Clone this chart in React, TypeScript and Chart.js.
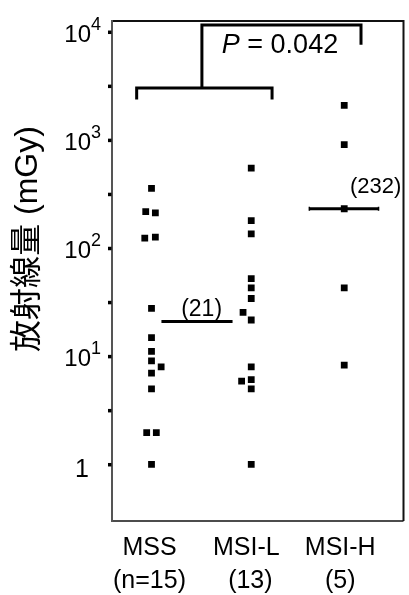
import React, { useEffect, useRef } from 'react';
import { Chart, registerables } from 'chart.js';

Chart.register(...registerables);

// ---- data ----
const categories = ['MSS', 'MSI-L', 'MSI-H'];
const groupSizes = ['(n=15)', '(13)', '(5)'];

const mssValues = [358, 218, 212, 124, 127, 27.8, 14.9, 11.1, 9.1, 8.0, 7.0, 5.0, 1.97, 1.97, 1.0];
const mssOffsets = [0, -0.06, 0.04, -0.07, 0.04, 0, 0, 0, 0, 0.1, 0, 0, -0.05, 0.05, 0];

const msilValues = [550, 180, 136, 52.4, 43, 34.3, 25.5, 21.7, 8.0, 5.9, 6.1, 5.0, 1.0];
const msilOffsets = [0.035, 0.035, 0.035, 0.035, 0.035, 0.035, -0.05, 0.035, 0.035, -0.065, 0.035, 0.035, 0.035];

const msihValues = [2100, 908, 232, 43, 8.3];
const msihOffsets = [0, 0, 0, 0, 0];

const medianValues = [21, 232];
const medianLabels = ['(21)', '(232)'];

const majorTickExponents = [0, 1, 2, 3, 4];
const minorTickValues = [3.162, 31.62, 316.2, 3162];

const pValue = '0.042';
const yTitle = '放射線量 (mGy)';

// ---- helpers ----
const FONT = "'Liberation Sans', Arial, sans-serif";

const groups = [
  { values: mssValues, offsets: mssOffsets, index: 0 },
  { values: msilValues, offsets: msilOffsets, index: 1 },
  { values: msihValues, offsets: msihOffsets, index: 2 },
];

const overlayPlugin = {
  id: 'overlay',
  afterDraw(chart: any) {
    const ctx: CanvasRenderingContext2D = chart.ctx;
    const area = chart.chartArea;
    const xs = chart.scales.x;
    const ys = chart.scales.y;
    ctx.save();

    // frame
    ctx.lineCap = 'butt';
    ctx.strokeStyle = '#111';
    ctx.lineWidth = 2;
    ctx.beginPath();
    ctx.moveTo(area.left, area.top);
    ctx.lineTo(area.right, area.top);
    ctx.lineTo(area.right, area.bottom);
    ctx.stroke();
    ctx.lineWidth = 1.5;
    ctx.beginPath();
    ctx.moveTo(area.left, area.bottom);
    ctx.lineTo(area.right, area.bottom);
    ctx.stroke();
    ctx.strokeStyle = '#555';
    ctx.lineWidth = 2;
    ctx.beginPath();
    ctx.moveTo(area.left, area.top - 1);
    ctx.lineTo(area.left, area.bottom + 1);
    ctx.stroke();

    // tick marks (decades and half decades)
    ctx.fillStyle = '#000';
    const tickVals = majorTickExponents.map((e) => Math.pow(10, e)).concat(minorTickValues);
    tickVals.forEach((v) => {
      const y = ys.getPixelForValue(v);
      ctx.fillRect(area.left - 4, y - 1.5, 3.5, 3.5);
    });

    // y tick labels with superscripts
    ctx.fillStyle = '#000';
    majorTickExponents.forEach((e) => {
      const y = ys.getPixelForValue(Math.pow(10, e));
      if (e === 0) {
        ctx.font = `25px ${FONT}`;
        ctx.textAlign = 'right';
        ctx.textBaseline = 'alphabetic';
        ctx.fillText('1', 89, y + 13);
      } else {
        ctx.font = `24px ${FONT}`;
        ctx.textAlign = 'right';
        ctx.textBaseline = 'alphabetic';
        ctx.fillText('10', 91, y + 9.5);
        ctx.font = `18px ${FONT}`;
        ctx.textAlign = 'left';
        ctx.fillText(String(e), 91, y - 2);
      }
    });

    // y title
    ctx.save();
    ctx.translate(28, 239);
    ctx.rotate(-Math.PI / 2);
    ctx.font = `32px ${FONT}, 'Noto Sans CJK JP', sans-serif`;
    ctx.textAlign = 'center';
    ctx.textBaseline = 'middle';
    ctx.fillText(yTitle, 0, 0);
    ctx.restore();

    // x category labels
    ctx.font = `25px ${FONT}`;
    ctx.textAlign = 'center';
    ctx.textBaseline = 'alphabetic';
    const labelShift = [-2, -1.5, -4];
    const sizeShift = [-2, 2.5, -4];
    categories.forEach((c, i) => {
      const x = xs.getPixelForValue(i);
      ctx.fillText(c, x + labelShift[i], 555);
      ctx.fillText(groupSizes[i], x + sizeShift[i], 588);
    });

    // median labels
    ctx.font = `23px ${FONT}`;
    ctx.textAlign = 'center';
    ctx.fillText(medianLabels[0], xs.getPixelForValue(0.52), ys.getPixelForValue(medianValues[0]) - 6);
    ctx.font = `22px ${FONT}`;
    ctx.textAlign = 'left';
    ctx.fillText(medianLabels[1], xs.getPixelForValue(2.06), ys.getPixelForValue(medianValues[1]) - 16);

    // significance bracket
    ctx.strokeStyle = '#000';
    ctx.lineWidth = 3;
    ctx.lineJoin = 'miter';
    const X = (v: number) => xs.getPixelForValue(v);
    const Y = (v: number) => ys.getPixelForValue(v);
    ctx.beginPath();
    ctx.moveTo(X(-0.154), Y(2377));
    ctx.lineTo(X(-0.154), Y(3034));
    ctx.lineTo(X(1.251), Y(3034));
    ctx.lineTo(X(1.251), Y(2377));
    ctx.stroke();
    ctx.beginPath();
    ctx.moveTo(X(0.523), Y(3034));
    ctx.lineTo(X(0.523), Y(11610));
    ctx.lineTo(X(2.174), Y(11610));
    ctx.lineTo(X(2.174), Y(7620));
    ctx.stroke();

    // P value text
    ctx.textBaseline = 'alphabetic';
    ctx.textAlign = 'left';
    ctx.font = `italic 27px ${FONT}`;
    const pW = ctx.measureText('P').width;
    ctx.font = `27px ${FONT}`;
    const rest = ' = ' + pValue;
    const rW = ctx.measureText(rest).width;
    const startX = 280 - (pW + rW) / 2;
    ctx.font = `italic 27px ${FONT}`;
    ctx.fillText('P', startX, 53);
    ctx.font = `27px ${FONT}`;
    ctx.fillText(rest, startX + pW, 53);

    ctx.restore();
  },
};

export default function App() {
  const ref = useRef<HTMLCanvasElement>(null);

  useEffect(() => {
    const canvas = ref.current;
    if (!canvas) return;

    const pointSets = groups.map((g) => ({
      label: categories[g.index],
      data: g.values.map((v, i) => ({ x: g.index + g.offsets[i], y: v })),
      pointStyle: 'rect',
      pointRadius: 4.8,
      pointBorderWidth: 0,
      backgroundColor: '#000',
      borderColor: '#000',
      showLine: false,
    }));

    const medianSets = [
      {
        label: 'median MSS/MSI-L',
        data: [
          { x: 0.103, y: medianValues[0] },
          { x: 0.841, y: medianValues[0] },
        ],
        showLine: true,
        borderColor: '#000',
        borderWidth: 3,
        pointRadius: 0,
      },
      {
        label: 'median MSI-H',
        data: [
          { x: 1.638, y: medianValues[1] },
          { x: 2.356, y: medianValues[1] },
        ],
        showLine: true,
        borderColor: '#000',
        borderWidth: 3,
        pointRadius: 2,
        pointStyle: 'line',
        rotation: 90,
        pointBorderWidth: 1.5,
        pointBorderColor: '#000',
      },
    ];

    const chart = new Chart(canvas, {
      type: 'scatter',
      data: { datasets: [...medianSets, ...pointSets] as any },
      options: {
        responsive: false,
        animation: false,
        events: [],
        layout: { padding: { left: 112, top: 21, right: 2, bottom: 74 } },
        plugins: { legend: { display: false }, tooltip: { enabled: false } },
        scales: {
          x: { type: 'linear', display: false, min: -0.41, max: 2.615 },
          y: { type: 'logarithmic', display: false, min: 0.3206, max: 12650 },
        },
      } as any,
      plugins: [overlayPlugin],
    });

    return () => chart.destroy();
  }, []);

  return (
    <div style={{ position: 'absolute', left: 0, top: 0, width: 409, height: 595, background: '#fff' }}>
      <canvas ref={ref} width={409} height={595} style={{ display: 'block' }} />
    </div>
  );
}
